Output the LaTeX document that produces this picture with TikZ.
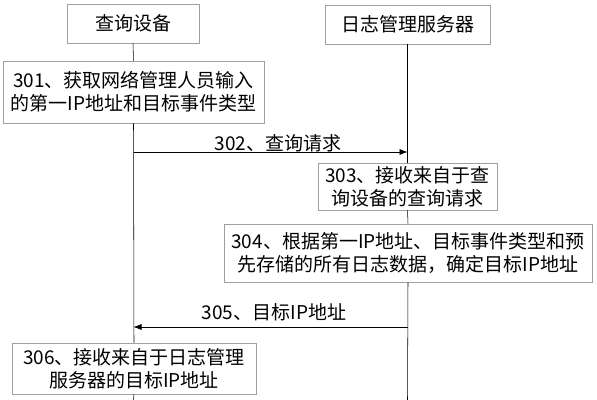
\documentclass[tikz,border=0pt]{standalone}
\usepackage{fontspec}
\setmainfont{Noto Sans CJK SC}
\usepackage{tikz}
\usetikzlibrary{arrows.meta}

\begin{document}
\begin{tikzpicture}[x=0.75pt,y=0.75pt,yscale=-1,xscale=1,
    stepbox/.style={draw={rgb, 255:red, 160; green, 160; blue, 160 },fill=white,inner sep=0pt,align=center,font=\fontsize{14.25}{17}\selectfont},
    msglabel/.style={inner sep=0.75pt,font=\fontsize{14.25}{17}\selectfont}]
    %set diagram left start at 0, and has height of 400
    \useasboundingbox (0,0) rectangle (597,400);

    %Shape: Rectangle [id:dev]
    \node [stepbox,minimum width=99pt,minimum height=29.25pt] (dev) at (133,23.5) {查询设备};
    %Shape: Rectangle [id:srv]
    \node [stepbox,minimum width=123.75pt,minimum height=29.25pt] (srv) at (407.5,24.5) {日志管理服务器};

    %Shape: Rectangle [id:s301]
    \node [stepbox,minimum width=195.75pt,minimum height=46.5pt] (s301) at (133.5,92) {301、获取网络管理人员输入\\的第一IP地址和目标事件类型};
    %Shape: Rectangle [id:s303]
    \node [stepbox,minimum width=134.25pt,minimum height=35.25pt] (s303) at (407.5,186.5) {303、接收来自于查\\询设备的查询请求};
    %Shape: Rectangle [id:s304]
    \node [stepbox,minimum width=276pt,minimum height=43.5pt] (s304) at (408,253) {304、根据第一IP地址、目标事件类型和预\\先存储的所有日志数据，确定目标IP地址};
    %Shape: Rectangle [id:s306]
    \node [stepbox,minimum width=183pt,minimum height=38.25pt] (s306) at (134,368.5) {306、接收来自于日志管理\\服务器的目标IP地址};

    % lifeline ends and message points
    \coordinate (devEnd) at (133.5,400);
    \coordinate (srvEnd) at (407.5,400);
    \coordinate (q302a) at (133.5,152);
    \coordinate (q302b) at (407.5,152);
    \coordinate (q305a) at (133.5,327);
    \coordinate (q305b) at (407.5,327);

    %Shape: Lifelines
    \draw (dev.south) -- (s301.north);
    \draw (s301.south) -- (s306.north);
    \draw (s306.south) -- (devEnd);
    \draw (srv.south) -- (s303.north);
    \draw (s303.south) -- (s304.north);
    \draw (s304.south) -- (srvEnd);

    %Shape: Arrows
    \draw [-{Latex[length=6pt,width=4.5pt]}] (q302a) -- (q302b);
    \draw [-{Latex[length=6pt,width=4.5pt]}] (q305b) -- (q305a);

    % Text Node
    \node [msglabel] (m302) at (278,143) {302、查询请求};
    % Text Node
    \node [msglabel] (m305) at (274,312) {305、目标IP地址};

\end{tikzpicture}
\end{document}
